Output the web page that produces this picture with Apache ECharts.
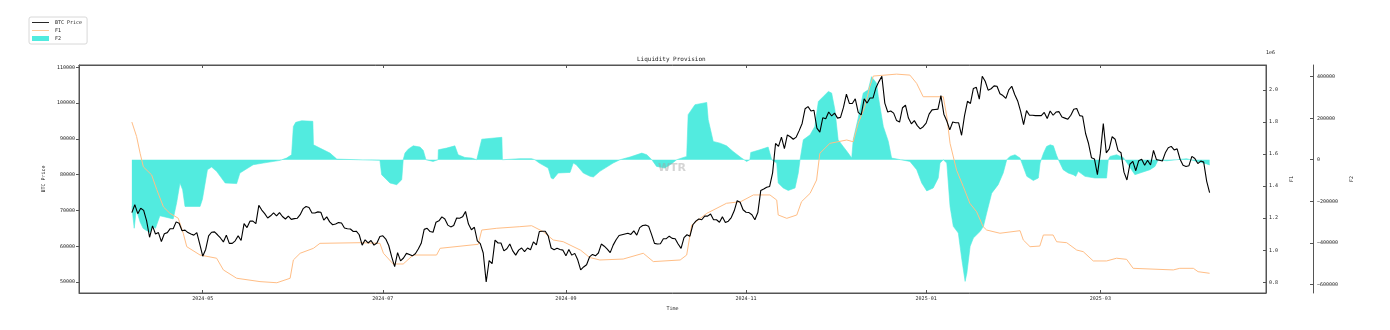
<!DOCTYPE html>
<html>
<head>
<meta charset="utf-8">
<style>
  html, body { margin: 0; padding: 0; background: #fff; }
  #chart-main { width: 1390px; height: 330px; }
</style>
<script src="https://cdn.jsdelivr.net/npm/echarts@6/dist/echarts.min.js"></script>
</head>
<body>
<div id="chart-main"></div>
<script>
var DAY = 86400000;
var startTime = Date.UTC(2024, 3, 7);   // first BTC sample, one value per day

var xTickLabels = ['2024-05', '2024-07', '2024-09', '2024-11', '2025-01', '2025-03'];
var btcTicks = [50000, 60000, 70000, 80000, 90000, 100000, 110000];
var f1Ticks = [800000, 1000000, 1200000, 1400000, 1600000, 1800000, 2000000];
var f2Ticks = [-600000, -400000, -200000, 0, 200000, 400000];

var btcPrice = [
  // 2024-04-07 .. 04-30
  69400, 71600, 69100, 70600, 70000, 67100, 62500, 65700, 63400, 63800, 61300, 63500,
  63800, 64900, 64900, 66800, 66400, 64300, 64500, 63800, 63400, 63100, 63800, 60600,
  // 05
  57200, 59100, 62900, 63900, 64000, 63200, 62300, 61200, 63100, 60800, 60800, 61500,
  62900, 61600, 66300, 65200, 67000, 67000, 66300, 71400, 70100, 69100, 67900, 68500,
  69300, 68500, 69400, 68300, 67600, 68400, 67500,
  // 06
  67700, 67800, 68800, 70500, 71100, 70800, 69300, 69300, 69600, 69500, 67300, 68200,
  66800, 66000, 66200, 66600, 66500, 65100, 64900, 64800, 64100, 64200, 63200, 60300,
  61800, 60900, 61600, 60300, 60900, 62700,
  // 07
  62900, 62000, 60200, 57000, 54300, 58200, 55900, 56700, 58000, 57700, 57300, 57900,
  59200, 60800, 64700, 65000, 64100, 63900, 66700, 67100, 68200, 67600, 65900, 65400,
  65800, 67900, 67800, 68200, 69700, 66200, 64600,
  // 08
  65300, 61500, 60700, 58100, 50000, 56000, 55100, 61700, 60900, 60900, 58700, 59300,
  60600, 58700, 57500, 58900, 59500, 58500, 59500, 59000, 61200, 60400, 64100, 64200,
  64200, 62900, 59500, 59000, 59400, 59100, 58900,
  // 09
  57300, 59100, 57500, 58000, 56200, 53400, 54200, 54800, 57000, 57700, 57300, 58100,
  60600, 60000, 59200, 58200, 60300, 61800, 63000, 63200, 63400, 63600, 63300, 64300,
  63100, 65200, 65800, 65900, 65600, 63300,
  // 10
  60800, 60600, 60700, 62100, 62100, 62800, 62200, 62100, 60600, 59400, 62400, 63200,
  62800, 66000, 67000, 67600, 67400, 68400, 68400, 69000, 67400, 67400, 66700, 68200,
  66600, 67000, 68000, 69900, 72700, 72300, 70200,
  // 11
  69500, 69400, 68800, 67400, 69400, 75600, 76000, 76500, 76700, 80500, 88700, 87900,
  90500, 87300, 91100, 90600, 89900, 90500, 92300, 94300, 98400, 99000, 97800, 98000,
  93000, 91900, 95900, 95600, 97500, 96400,
  // 12
  97200, 95800, 96000, 98800, 102500, 99900, 99900, 101200, 97400, 96700, 101200, 100000,
  101400, 101400, 104300, 106000, 107500, 100000, 97500, 97800, 97200, 95100, 94700, 98700,
  99400, 95800, 94200, 95100, 93700, 92800, 93400,
  // 2025-01
  94400, 96900, 98100, 98200, 98300, 102100, 96900, 95000, 92500, 94700, 94500, 94500,
  91000, 96500, 100500, 99900, 104100, 104400, 101100, 107500, 106100, 103600, 104000, 104800,
  104700, 102600, 102100, 101300, 103700, 104700, 102400,
  // 02
  100600, 97700, 94000, 97900, 96600, 96600, 96500, 96500, 96500, 97400, 95700, 97800,
  96600, 97500, 97600, 96100, 95800, 95500, 96600, 98300, 98500, 96500, 96300, 91500,
  88700, 84700, 84400, 80000,
  // 03
  86000, 94300, 86100, 87200, 90600, 89900, 86700, 86100, 80700, 78500, 82900, 83700,
  81100, 83900, 84300, 82600, 84000, 82700, 86800, 84200, 84000, 83800, 86100, 87500,
  87900, 86900, 87200, 84300, 82600, 82300, 82500,
  // 04
  85100, 84500, 83100, 83800, 83500, 78200, 75000
];

// F1: [days after start, value]
var f1Points = [
  [0, 1800000], [1.6, 1710000], [2.8, 1605000], [3.9, 1520000], [6.7, 1470000], [8.4, 1380000],
  [10.7, 1270000], [12.9, 1230000], [15.7, 1200000], [17.4, 1106000], [18.6, 1022000], [23.1, 970000],
  [28.7, 950000], [31, 877000], [35.5, 825000], [43.4, 804000], [49.1, 797000], [53.6, 825000],
  [54.7, 939000], [57, 981000], [61.5, 1012000], [63.7, 1043000], [77.3, 1047000], [84, 1043000],
  [85.2, 981000], [88.5, 914000], [91.9, 914000], [95.3, 970000], [103.2, 970000], [104.4, 1012000],
  [117.3, 1037000], [118.5, 1126000], [123.6, 1137000], [131.4, 1147000], [135.4, 1153000], [139.3, 1116000],
  [142.7, 1064000], [146.1, 1053000], [152, 1000000], [155, 955000], [158.5, 939000], [166.4, 945000],
  [173.2, 981000], [176.6, 929000], [185.7, 939000], [187.9, 970000], [189.6, 1157000], [194.7, 1230000],
  [201.4, 1293000], [206.2, 1303000], [210.5, 1345000], [216.1, 1345000], [218.4, 1313000], [218.9, 1220000],
  [221.8, 1199000], [225.2, 1220000], [226.8, 1303000], [229.7, 1355000], [231.9, 1438000], [233, 1605000],
  [236.4, 1667000], [242.1, 1688000], [244.3, 1677000], [246, 1792000], [248.2, 1895000], [249.9, 2020000],
  [251.1, 2087000], [259, 2099000], [263.5, 2093000], [265.8, 2041000], [268, 1958000], [274.8, 1958000],
  [276, 1833000], [277.1, 1667000], [279.3, 1500000], [281.6, 1396000], [283.8, 1293000], [286.1, 1240000],
  [288.3, 1147000], [289.5, 1126000], [294, 1106000], [300.8, 1122000], [301.9, 1064000], [304.2, 1022000],
  [307.5, 1026000], [308.7, 1095000], [312, 1095000], [313.2, 1053000], [316.6, 1047000], [320, 1001000],
  [322.2, 991000], [325.6, 933000], [330.1, 933000], [333.5, 950000], [336.9, 943000], [339.1, 887000],
  [352.7, 877000], [354.9, 887000], [359.5, 887000], [361.1, 866000], [365, 856000]
];

// F2: [days after start, value]
var f2Points = [
  [0, -225000], [0.8, -330000], [1.5, -240000], [2.8, -300000], [3.8, -330000], [4.8, -340000],
  [6.2, -350000], [6.9, -320000], [8, -330000], [9.5, -270000], [14, -285000], [15.2, -205000],
  [16.3, -112000], [17.2, -145000], [18, -225000], [23.1, -225000], [23.9, -190000], [25.6, -48000],
  [27, -35000], [28.7, -56000], [31.6, -112000], [35.5, -115000], [36.6, -64000], [41.1, -24000],
  [44.5, -16000], [50.2, -3000], [52.4, 8000], [54.1, 24000], [54.7, 160000], [55.5, 180000],
  [57.5, 188000], [61.3, 185000], [61.5, 72000], [63.7, 56000], [67.1, 32000], [69.4, 3000],
  [84, -3000], [84.6, -72000], [87.4, -112000], [89.7, -120000], [91.4, -96000], [91.9, 0],
  [92.5, 32000], [93.6, 51000], [95.3, 67000], [97.6, 61000], [98.7, 45000], [99.6, 0],
  [102, -8000], [103.7, 0], [103.8, 48000], [106.6, 56000], [109.4, 67000], [110.5, 24000],
  [112.8, 11000], [115.1, 8000], [116.8, 0], [118.5, 99000], [125.3, 108000], [125.5, 0],
  [131.4, 5000], [135.4, 5000], [136.5, 0], [138, -16000], [141, -40000], [142, -88000],
  [142.7, -93000], [144.4, -64000], [148.4, -61000], [149.5, -16000], [150.5, -24000], [152.9, -64000],
  [155.2, -80000], [156.3, -83000], [158.5, -56000], [163, -16000], [165.3, 0], [168.7, 13000],
  [172.7, 32000], [174.4, 24000], [176.1, 0], [177.7, -32000], [180.5, -40000], [182.8, -19000],
  [184.5, 0], [187.9, 16000], [188.4, 217000], [190.7, 265000], [194.7, 276000], [195.2, 193000],
  [196.9, 88000], [199.2, 80000], [201.4, 67000], [203.6, 40000], [206.5, 8000], [208.2, -8000],
  [209.3, 0], [209.6, 35000], [212.7, 48000], [215.5, 61000], [216.7, 0], [218.4, -16000],
  [218.9, -112000], [220.6, -136000], [222.3, -148000], [224.6, -136000], [225.7, -64000], [226.3, 0],
  [227.4, 96000], [229.7, 120000], [231.3, 160000], [232.5, 281000], [234.2, 305000], [235.9, 329000],
  [237, 321000], [238.1, 241000], [239.2, 96000], [240.9, 64000], [242.6, 32000], [243.8, 8000],
  [244.3, 96000], [246, 201000], [247.7, 321000], [249.4, 337000], [250.5, 400000], [252.2, 369000],
  [252.8, 305000], [254.5, 160000], [256.2, 88000], [257.3, 8000], [257.9, 0], [263.5, -8000],
  [265.8, -48000], [267.5, -112000], [269.2, -150000], [271.4, -136000], [273.1, -88000], [273.7, -16000],
  [274.8, 0], [276, -16000], [277.1, -225000], [278.2, -321000], [279.9, -353000], [281.1, -482000],
  [282.2, -586000], [282.8, -546000], [283.9, -417000], [285, -377000], [287.3, -345000], [288.4, -321000],
  [289.5, -257000], [291.2, -161000], [293.4, -120000], [295.1, -64000], [296.3, 0], [297.4, 16000],
  [299.1, 24000], [300.8, 8000], [301.4, 0], [303.1, -80000], [305.3, -100000], [307, -88000],
  [307.6, -16000], [308.1, -16000], [308.7, 30000], [309.8, 64000], [311, 72000], [312.1, 67000],
  [313.2, 20000], [313.8, 0], [314.3, -8000], [315.4, -48000], [317.1, -64000], [318.8, -72000],
  [319.7, -80000], [320.5, -56000], [322.8, -80000], [326.1, -88000], [330.1, -88000], [330.7, 0],
  [331.3, 16000], [333.5, 24000], [335.8, 10000], [336.3, 0], [339.7, -72000], [341.4, -64000],
  [344.8, -48000], [346.5, -32000], [347.6, 0], [350.4, -5000], [357.2, 5000], [364, -20000],
  [365, -25000]
];

var dom = document.getElementById("chart-main");
var chart = echarts.init(dom, null, { renderer: 'canvas' });

var FONT = 'DejaVu Sans Mono';
var btcColor = '#000000';
var f1Color = '#FFBE86';
var f2Color = '#52EBDF';
var axisColor = '#555555';
var textColor = '#222222';
var lineIcon = 'path://M0,0H40V2H0Z';

function pad2(n) { return n < 10 ? '0' + n : '' + n; }
function plainNum(v) { return v < 0 ? '\u2212' + Math.abs(v) : String(v); }

var xTickValues = xTickLabels.map(function (s) {
  return Date.UTC(+s.slice(0, 4), +s.slice(5, 7) - 1, 1);
});

var btcData = btcPrice.map(function (v, i) { return [startTime + i * DAY, v]; });
var f1Data = f1Points.map(function (p) { return [startTime + p[0] * DAY, p[1]]; });
var f2Data = f2Points.map(function (p) { return [startTime + p[0] * DAY, p[1]]; });

var xMin = startTime - 17.9 * DAY;
var xMax = startTime + 384.1 * DAY;

var labelStyle = { fontFamily: FONT, fontSize: 5, color: textColor };

option = {
  animation: false,
  backgroundColor: '#ffffff',
  title: {
    text: 'Liquidity Provision',
    left: 637,
    top: 56,
    padding: 0,
    textStyle: { fontFamily: FONT, fontSize: 6, fontWeight: 'normal', color: textColor }
  },
  legend: {
    orient: 'vertical',
    left: 29,
    top: 17,
    padding: [3, 5, 3, 3],
    itemWidth: 17,
    itemHeight: 5,
    itemGap: 3,
    symbolKeepAspect: true,
    borderColor: '#d8d8d8',
    borderWidth: 1,
    borderRadius: 2,
    textStyle: { fontFamily: FONT, fontSize: 5, color: textColor, padding: [0, 0, 0, 1] },
    data: [
      { name: 'BTC Price', icon: lineIcon },
      { name: 'F1', icon: lineIcon },
      { name: 'F2', icon: 'rect' }
    ]
  },
  grid: {
    left: 79,
    right: 124,
    top: 65,
    bottom: 37,
    show: true,
    borderColor: axisColor,
    borderWidth: 1,
    containLabel: false,
    outerBoundsMode: 'none'
  },
  graphic: [
    {
      type: 'text',
      left: 1266,
      top: 50,
      style: { text: '1e6', font: '5px "DejaVu Sans Mono"', fill: textColor }
    },
    {
      type: 'text',
      x: 672,
      y: 168,
      style: {
        text: 'WTR',
        font: 'bold 11px "DejaVu Sans"',
        fill: 'rgba(160,160,160,0.45)',
        align: 'center',
        verticalAlign: 'middle'
      },
      z: 100
    }
  ],
  xAxis: [
    {
      type: 'value',
      min: xMin,
      max: xMax,
      name: 'Time',
      nameLocation: 'middle',
      nameGap: 7,
      nameTextStyle: labelStyle,
      axisLine: { show: true, onZero: false, lineStyle: { color: axisColor, width: 1 } },
      axisTick: { show: true, inside: true, length: 3, customValues: xTickValues, lineStyle: { color: axisColor } },
      axisLabel: {
        fontFamily: FONT, fontSize: 5, color: textColor, margin: 3,
        customValues: xTickValues,
        formatter: function (v) {
          var d = new Date(v);
          return d.getUTCFullYear() + '-' + pad2(d.getUTCMonth() + 1);
        }
      },
      splitLine: { show: false }
    },
    {
      type: 'value',
      position: 'top',
      min: xMin,
      max: xMax,
      axisLine: { show: true, onZero: false, lineStyle: { color: axisColor, width: 1 } },
      axisTick: { show: true, inside: true, length: 3, customValues: xTickValues, lineStyle: { color: axisColor } },
      axisLabel: { show: false },
      splitLine: { show: false }
    }
  ],
  yAxis: [
    {
      type: 'value',
      position: 'left',
      min: 46923,
      max: 110643,
      name: 'BTC Price',
      nameLocation: 'middle',
      nameRotate: 90,
      nameGap: 18,
      nameTextStyle: labelStyle,
      axisLine: { show: true, onZero: false, lineStyle: { color: axisColor, width: 1 } },
      axisTick: { show: true, length: 3, customValues: btcTicks, lineStyle: { color: axisColor } },
      axisLabel: { fontFamily: FONT, fontSize: 5, color: textColor, margin: 4, customValues: btcTicks, formatter: plainNum },
      splitLine: { show: false }
    },
    {
      type: 'value',
      position: 'right',
      min: 733000,
      max: 2156000,
      name: 'F1',
      nameLocation: 'middle',
      nameRotate: 90,
      nameGap: 9,
      nameTextStyle: labelStyle,
      axisLine: { show: true, onZero: false, lineStyle: { color: axisColor, width: 1 } },
      axisTick: { show: true, inside: true, length: 3, customValues: f1Ticks, lineStyle: { color: axisColor } },
      axisLabel: {
        fontFamily: FONT, fontSize: 5, color: textColor, margin: 3,
        customValues: f1Ticks,
        formatter: function (v) { return (v / 1e6).toFixed(1); }
      },
      splitLine: { show: false }
    },
    {
      type: 'value',
      position: 'right',
      offset: 47,
      min: -641940,
      max: 456358,
      name: 'F2',
      nameLocation: 'middle',
      nameRotate: 90,
      nameGap: 22,
      nameTextStyle: labelStyle,
      axisLine: { show: true, onZero: false, lineStyle: { color: axisColor, width: 1 } },
      axisTick: { show: true, inside: true, length: 3, customValues: f2Ticks, lineStyle: { color: axisColor } },
      axisLabel: { fontFamily: FONT, fontSize: 5, color: textColor, margin: 4, customValues: f2Ticks, formatter: plainNum },
      splitLine: { show: false }
    }
  ],
  series: [
    {
      name: 'F2',
      type: 'line',
      xAxisIndex: 0,
      yAxisIndex: 2,
      data: f2Data,
      symbol: 'none',
      color: f2Color,
      lineStyle: { color: f2Color, width: 0.6 },
      areaStyle: { color: f2Color, opacity: 1 },
      z: 1
    },
    {
      name: 'F1',
      type: 'line',
      xAxisIndex: 0,
      yAxisIndex: 1,
      data: f1Data,
      symbol: 'none',
      color: f1Color,
      lineStyle: { color: f1Color, width: 1 },
      z: 2
    },
    {
      name: 'BTC Price',
      type: 'line',
      xAxisIndex: 0,
      yAxisIndex: 0,
      data: btcData,
      symbol: 'none',
      color: btcColor,
      lineStyle: { color: btcColor, width: 1.1 },
      z: 3
    }
  ]
};

if (option && typeof option === "object") {
  chart.setOption(option, true);
}
</script>
</body>
</html>
